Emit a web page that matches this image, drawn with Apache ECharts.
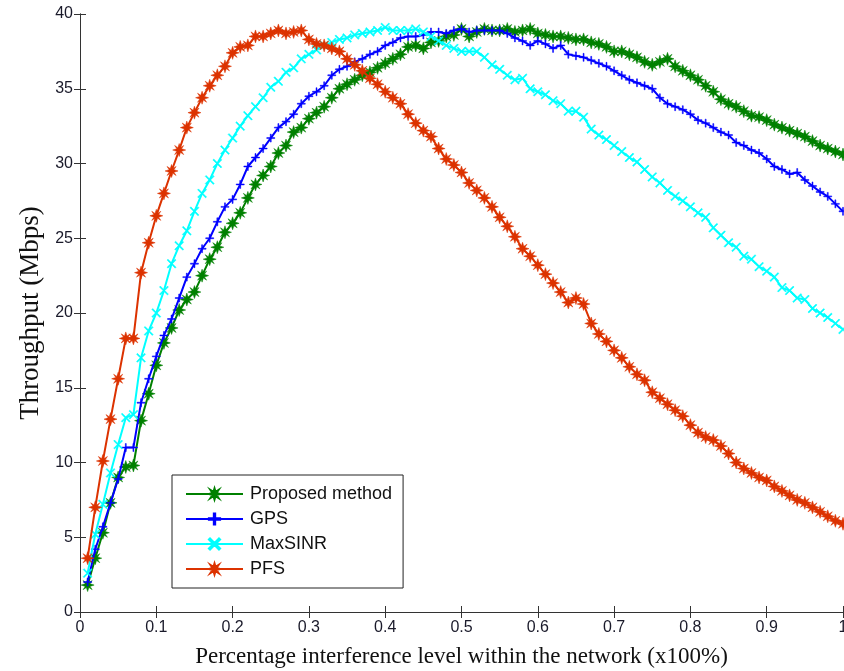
<!DOCTYPE html>
<html>
<head>
<meta charset="utf-8">
<script src="https://cdn.jsdelivr.net/npm/echarts@6/dist/echarts.min.js"></script>
<style>html,body{margin:0;padding:0;background:#fff;}#c{width:844px;height:671px;}</style>
</head>
<body>
<div id="c"></div>
<script>
const xs = [0.01,0.02,0.03,0.04,0.05,0.06,0.07,0.08,0.09,0.10,0.11,0.12,0.13,0.14,0.15,0.16,0.17,0.18,0.19,0.20,0.21,0.22,0.23,0.24,0.25,0.26,0.27,0.28,0.29,0.30,0.31,0.32,0.33,0.34,0.35,0.36,0.37,0.38,0.39,0.40,0.41,0.42,0.43,0.44,0.45,0.46,0.47,0.48,0.49,0.50,0.51,0.52,0.53,0.54,0.55,0.56,0.57,0.58,0.59,0.60,0.61,0.62,0.63,0.64,0.65,0.66,0.67,0.68,0.69,0.70,0.71,0.72,0.73,0.74,0.75,0.76,0.77,0.78,0.79,0.80,0.81,0.82,0.83,0.84,0.85,0.86,0.87,0.88,0.89,0.90,0.91,0.92,0.93,0.94,0.95,0.96,0.97,0.98,0.99,1.00];

const proposed = [1.8,3.6,5.3,7.3,9.0,9.7,9.8,12.8,14.6,16.5,18.0,19.0,20.2,20.9,21.4,22.5,23.6,24.4,25.4,26.0,26.7,27.7,28.6,29.2,29.8,30.7,31.2,32.1,32.4,33.0,33.4,33.8,34.4,35.0,35.3,35.6,35.9,36.1,36.4,36.7,37.0,37.3,37.8,37.9,37.7,38.1,38.2,38.5,38.6,39.0,38.5,38.8,39.0,38.9,38.9,39.0,38.8,38.9,39.0,38.7,38.6,38.5,38.5,38.4,38.3,38.3,38.1,38.0,37.8,37.5,37.5,37.3,37.1,36.8,36.6,36.8,37.0,36.5,36.2,35.9,35.6,35.2,34.8,34.3,34.0,33.8,33.5,33.2,33.1,32.9,32.6,32.4,32.2,32.0,31.8,31.5,31.2,31.0,30.8,30.6];

const gps = [2.0,4.2,5.7,7.3,8.9,11.0,11.0,14.0,15.6,17.1,18.5,19.6,21.0,22.4,23.3,24.3,25.0,26.1,27.1,27.6,28.6,29.8,30.4,31.0,31.7,32.4,32.8,33.3,34.0,34.5,34.8,35.2,35.9,36.3,36.5,36.8,37.0,37.3,37.5,37.9,38.1,38.4,38.5,38.5,38.6,38.8,38.8,38.7,38.9,39.0,38.8,38.9,38.9,38.9,38.9,38.7,38.4,38.2,37.9,38.2,38.0,37.7,37.9,37.3,37.2,37.1,36.9,36.7,36.5,36.2,35.9,35.6,35.4,35.2,35.0,34.4,34.0,33.8,33.6,33.3,32.9,32.7,32.4,32.1,31.9,31.4,31.2,30.9,30.7,30.3,29.8,29.6,29.3,29.4,28.9,28.5,28.1,27.8,27.3,26.8];

const maxsinr = [2.6,5.2,7.2,9.3,11.2,13.0,13.2,17.0,18.8,20.0,21.5,23.3,24.5,25.5,26.8,28.0,28.9,30.0,30.9,31.7,32.5,33.2,33.8,34.4,35.1,35.5,36.1,36.4,37.0,37.3,37.6,37.9,38.1,38.3,38.4,38.6,38.7,38.8,38.9,39.1,38.9,38.9,38.9,39.0,38.8,38.5,38.2,37.9,37.7,37.5,37.5,37.5,37.1,36.6,36.3,35.9,35.6,35.7,35.0,34.8,34.6,34.2,34.0,33.5,33.5,33.1,32.3,31.9,31.6,31.2,30.8,30.4,30.1,29.6,29.1,28.7,28.2,27.8,27.5,27.1,26.7,26.4,25.7,25.2,24.7,24.4,23.8,23.6,23.1,22.8,22.4,21.7,21.5,21.0,20.9,20.3,20.0,19.7,19.3,18.9];

const pfs = [3.6,7.0,10.1,12.9,15.6,18.3,18.3,22.7,24.7,26.5,28.0,29.5,30.9,32.4,33.4,34.4,35.2,35.9,36.5,37.4,37.8,37.9,38.5,38.5,38.7,38.9,38.7,38.8,38.9,38.3,38.0,37.9,37.7,37.5,37.0,36.6,36.2,35.7,35.3,34.8,34.4,34.0,33.3,32.7,32.2,31.8,31.0,30.3,29.9,29.4,28.7,28.2,27.7,27.1,26.4,25.8,25.1,24.3,23.8,23.2,22.6,22.0,21.4,20.7,21.0,20.6,19.3,18.6,18.1,17.5,17.0,16.4,15.9,15.5,14.7,14.3,13.9,13.5,13.1,12.5,12.0,11.7,11.5,11.1,10.6,10.0,9.6,9.3,9.0,8.8,8.4,8.1,7.8,7.5,7.3,7.0,6.7,6.4,6.1,5.9];

const seriesNames = ['Proposed method','GPS','MaxSINR','PFS'];
const xTicks = ['0','0.1','0.2','0.3','0.4','0.5','0.6','0.7','0.8','0.9','1'];

const colors = ['#008000','#0000ff','#00ffff','#dc3200'];
const star8 = 'path://M0,-6L1.2,-2.2L4.2,-4.2L2.2,-1.2L6,0L2.2,1.2L4.2,4.2L1.2,2.2L0,6L-1.2,2.2L-4.2,4.2L-2.2,1.2L-6,0L-2.2,-1.2L-4.2,-4.2L-1.2,-2.2Z';
const plusS = 'path://M-0.6,-5L0.6,-5L0.6,-0.6L5,-0.6L5,0.6L0.6,0.6L0.6,5L-0.6,5L-0.6,0.6L-5,0.6L-5,-0.6L-0.6,-0.6Z';
const xS = 'path://M-5,-4L-4,-5L0,-1L4,-5L5,-4L1,0L5,4L4,5L0,1L-4,5L-5,4L-1,0Z';
const symbols = [star8, plusS, xS, star8];
const sizes = [13, 8, 9, 13];
const dataArr = [proposed, gps, maxsinr, pfs];

const chart = echarts.init(document.getElementById('c'), null, {renderer:'canvas'});
const tickFont = {fontFamily:'"Liberation Sans", Arial, sans-serif', fontSize:16, color:'#1a1a2a'};
const axisLineStyle = {color:'#333', width:1};

const series = dataArr.map((arr, i) => ({
  name: seriesNames[i],
  type: 'line',
  data: xs.map((x, j) => [x, arr[j]]),
  symbol: symbols[i],
  symbolSize: sizes[i],
  showAllSymbol: true,
  lineStyle: {color: colors[i], width: 2},
  itemStyle: {color: colors[i], borderColor: colors[i], borderWidth: 0.5},
  emphasis: {disabled: true},
  animation: false,
  z: 2 + i
}));

chart.setOption({
  animation: false,
  backgroundColor: '#fff',
  grid: {left: 80, right: 1, top: 14, bottom: 59, containLabel: false, outerBoundsMode: 'none'},
  legend: {
    orient: 'vertical',
    left: 172, top: 475,
    padding: [10, 11, 10, 13],
    itemWidth: 57, itemHeight: 14, itemGap: 7,
    backgroundColor: '#fff', borderColor: '#222', borderWidth: 1,
    textStyle: {fontFamily:'"Liberation Sans", Arial, sans-serif', fontSize:18, color:'#111', padding:[0,0,0,2]},
    data: seriesNames
  },
  xAxis: [{
    type: 'value', min: 0, max: 1, interval: 0.1, position: 'bottom',
    name: 'Percentage interference level within the network (x100%)',
    nameLocation: 'middle', nameGap: 33,
    nameTextStyle: {fontFamily:'"Liberation Serif", "Times New Roman", serif', fontSize:23, color:'#111'},
    axisLine: {show: true, lineStyle: axisLineStyle},
    axisTick: {show: true, inside: true, length: 6, lineStyle: axisLineStyle},
    axisLabel: Object.assign({margin: 8, formatter: (v) => xTicks[Math.round(v*10)]}, tickFont),
    splitLine: {show: false}
  }, {
    type: 'value', min: 0, max: 1, interval: 0.1, position: 'top',
    axisLine: {show: true, lineStyle: axisLineStyle},
    axisTick: {show: true, inside: true, length: 6, lineStyle: axisLineStyle},
    axisLabel: {show: false}, splitLine: {show: false}
  }],
  yAxis: [{
    type: 'value', min: 0, max: 40, interval: 5, position: 'left',
    name: 'Throughput (Mbps)', nameLocation: 'middle', nameGap: 36, nameRotate: 90,
    nameTextStyle: {fontFamily:'"Liberation Serif", "Times New Roman", serif', fontSize:27, color:'#111'},
    axisLine: {show: true, lineStyle: axisLineStyle},
    axisTick: {show: true, inside: true, length: 6, lineStyle: axisLineStyle},
    axisLabel: Object.assign({margin: 7}, tickFont),
    splitLine: {show: false}
  }, {
    type: 'value', min: 0, max: 40, interval: 5, position: 'right',
    axisLine: {show: true, lineStyle: axisLineStyle},
    axisTick: {show: true, inside: true, length: 6, lineStyle: axisLineStyle},
    axisLabel: {show: false}, splitLine: {show: false}
  }],
  series: series
});
</script>
</body>
</html>
